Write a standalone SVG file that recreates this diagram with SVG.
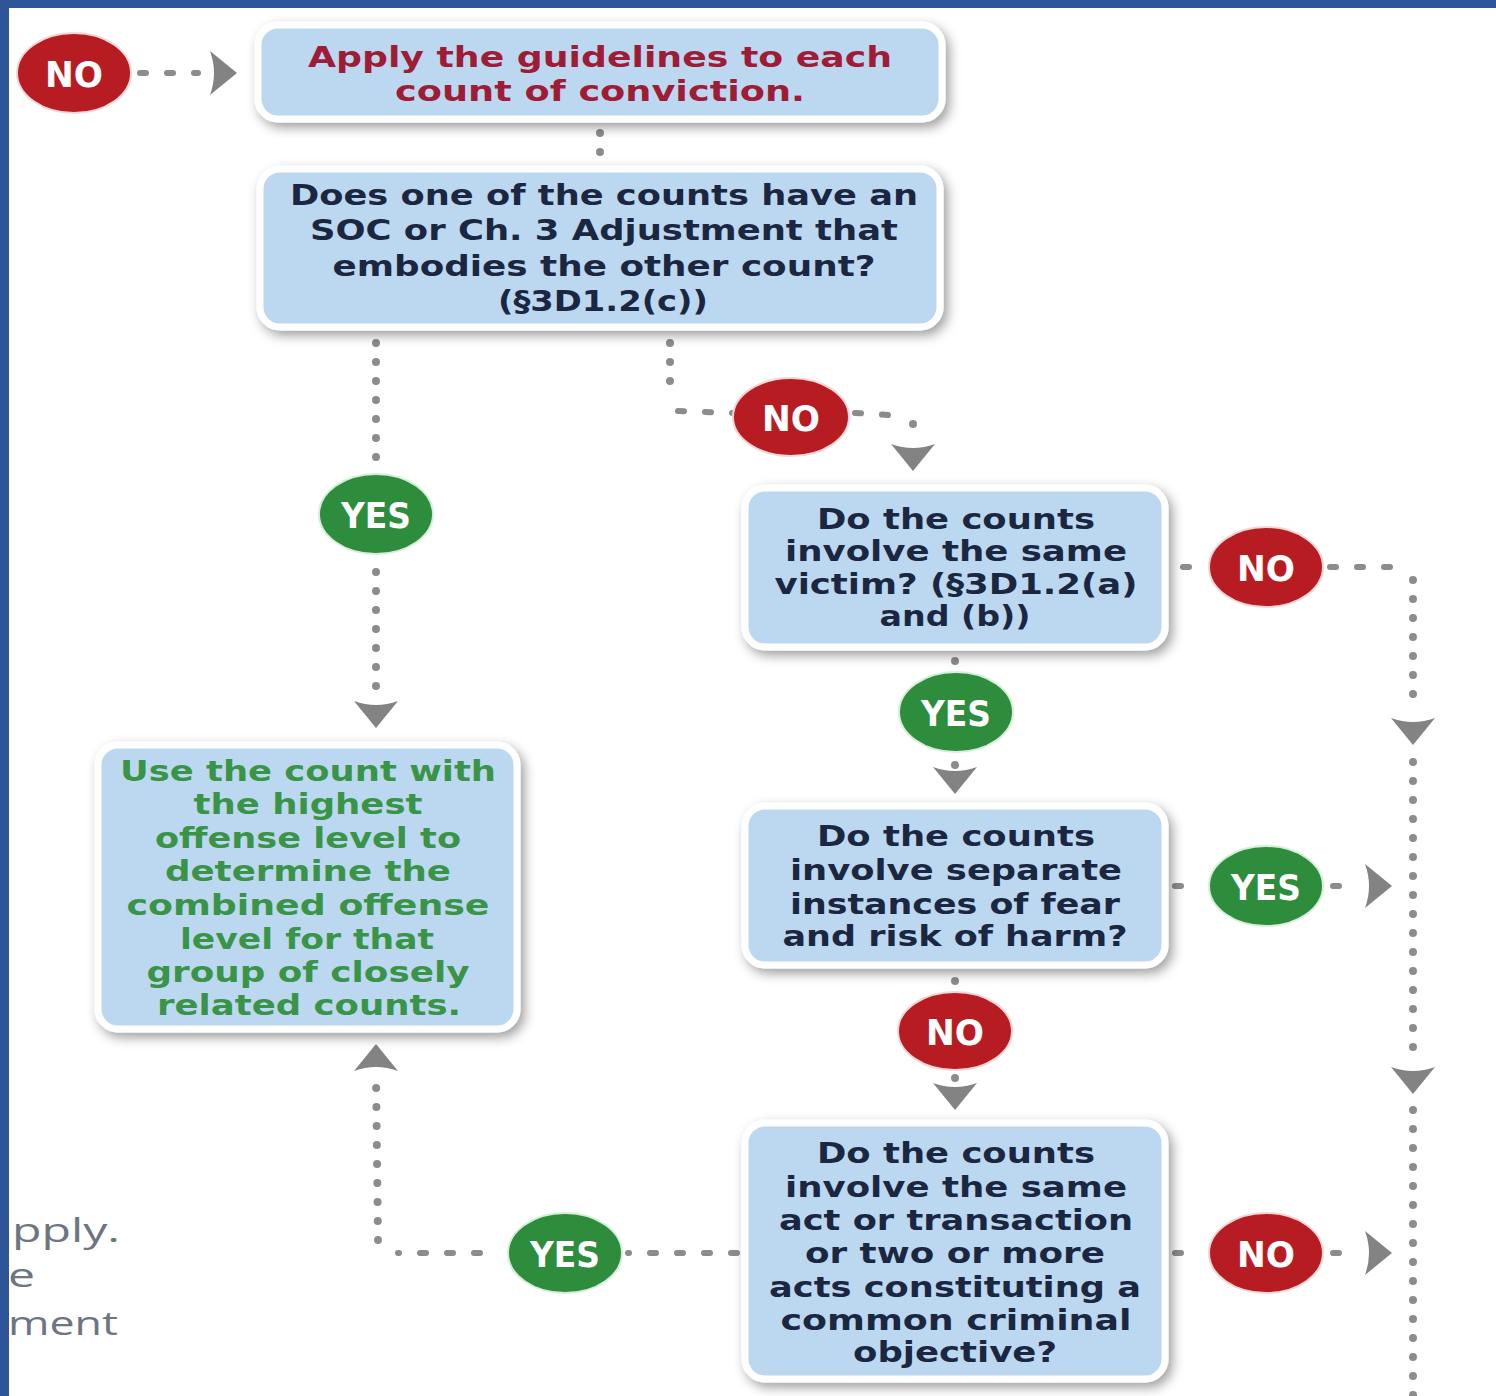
<svg xmlns="http://www.w3.org/2000/svg" xmlns:xlink="http://www.w3.org/1999/xlink" width="1496" height="1396" viewBox="0 0 1496 1396">
<style>
.box{fill:#bcd8f1;stroke:#ffffff;stroke-width:7;filter:url(#sh)}
.t{font-family:"DejaVu Sans","Liberation Sans",sans-serif;font-weight:bold;font-size:28px;text-anchor:middle}
.dark{fill:#1b2740}
.red{fill:#9e1c35}
.grn{fill:#3a9447}
.lab{font-family:"DejaVu Sans Condensed","DejaVu Sans",sans-serif;font-weight:bold;font-size:36px;fill:#ffffff;text-anchor:middle}
.no{fill:#b71c22;stroke:#f3d6d6;stroke-width:2}
.yes{fill:#2e8c3d;stroke:#d6eed9;stroke-width:2}
.dv{fill:none;stroke:#8c8c8c;stroke-width:8;stroke-linecap:round;stroke-dasharray:0 19}
.dh{fill:none;stroke:#8c8c8c;stroke-width:6;stroke-linecap:round;stroke-dasharray:6 21}
.arr{fill:#838383}
.side{font-family:"Open Sans","Liberation Sans",sans-serif;font-size:33px;fill:#6d7580}
</style>
<defs>
<filter id="sh" x="-10%" y="-15%" width="125%" height="135%">
<feDropShadow dx="4" dy="5" stdDeviation="6" flood-color="#000000" flood-opacity="0.38"/>
</filter>
<path id="ad" d="M0,0 L-22,-27 Q0,-19 22,-27 Z"/>
</defs>
<rect x="0" y="0" width="1496" height="1396" fill="#ffffff"/>

<g id="sidetext">
<text class="side" x="12" y="1242" textLength="108" lengthAdjust="spacingAndGlyphs">pply.</text>
<text class="side" x="8" y="1287" textLength="27" lengthAdjust="spacingAndGlyphs">e</text>
<text class="side" x="8" y="1335" textLength="110" lengthAdjust="spacingAndGlyphs">ment</text>
</g>

<g id="connectors">
<path class="dh" d="M0,73 L14,73"/>
<path class="dh" d="M140,73 L198,73"/>
<use href="#ad" class="arr" transform="translate(237,73) rotate(-90)"/>
<path class="dv" d="M600,133 L600,155"/>
<path class="dv" d="M376,343 L376,465"/>
<path class="dv" d="M376,572 L376,695"/>
<use href="#ad" class="arr" transform="translate(376,728)"/>
<path class="dv" d="M670,343 L670,400"/>
<path class="dh" d="M678,411 L733,413"/>
<path class="dh" d="M855,413 L905,416"/>
<path class="dv" d="M913,424 L913,440"/>
<use href="#ad" class="arr" transform="translate(913,471)"/>
<path class="dh" d="M1183,567 L1200,567"/>
<path class="dh" d="M1330,567 L1395,567"/>
<path class="dv" d="M1413,580 L1413,710"/>
<use href="#ad" class="arr" transform="translate(1413,745)"/>
<path class="dv" d="M1413,762 L1413,1060"/>
<use href="#ad" class="arr" transform="translate(1413,1094)"/>
<path class="dv" d="M1413,1110 L1413,1396"/>
<path class="dv" d="M955,661 L955,665"/>
<path class="dv" d="M955,765 L955,768"/>
<use href="#ad" class="arr" transform="translate(955,794)"/>
<path class="dh" d="M1175,886 L1200,886"/>
<path class="dh" d="M1333,886 L1345,886"/>
<use href="#ad" class="arr" transform="translate(1392,886) rotate(-90)"/>
<path class="dv" d="M955,981 L955,984"/>
<path class="dv" d="M955,1078 L955,1081"/>
<use href="#ad" class="arr" transform="translate(955,1110)"/>
<path class="dh" d="M1175,1253 L1200,1253"/>
<path class="dh" d="M1333,1253 L1345,1253"/>
<use href="#ad" class="arr" transform="translate(1392,1253) rotate(-90)"/>
<path class="dh" d="M737,1253 L628,1253"/>
<path class="dh" d="M480,1253 L398,1253"/>
<path class="dv" d="M378,1240 L376,1075"/>
<use href="#ad" class="arr" transform="translate(376,1044) rotate(180)"/>
</g>

<g id="n1">
<rect class="box" x="258" y="25" width="684" height="94" rx="20"/>
<text class="t red" x="600" y="67" textLength="584" lengthAdjust="spacingAndGlyphs">Apply the guidelines to each</text>
<text class="t red" x="600" y="101" textLength="410" lengthAdjust="spacingAndGlyphs">count of conviction.</text>
</g>

<g id="n2">
<rect class="box" x="260" y="169" width="680" height="158" rx="20"/>
<text class="t dark" x="604" y="205" textLength="628" lengthAdjust="spacingAndGlyphs">Does one of the counts have an</text>
<text class="t dark" x="604" y="240" textLength="588" lengthAdjust="spacingAndGlyphs">SOC or Ch. 3 Adjustment that</text>
<text class="t dark" x="604" y="276" textLength="543" lengthAdjust="spacingAndGlyphs">embodies the other count?</text>
<text class="t dark" x="603" y="311" textLength="210" lengthAdjust="spacingAndGlyphs">(§3D1.2(c))</text>
</g>

<g id="n3">
<rect class="box" x="98" y="745" width="419" height="284" rx="20"/>
<text class="t grn" x="308" y="781" textLength="376" lengthAdjust="spacingAndGlyphs">Use the count with</text>
<text class="t grn" x="308" y="814" textLength="229" lengthAdjust="spacingAndGlyphs">the highest</text>
<text class="t grn" x="308" y="848" textLength="306" lengthAdjust="spacingAndGlyphs">offense level to</text>
<text class="t grn" x="308" y="881" textLength="286" lengthAdjust="spacingAndGlyphs">determine the</text>
<text class="t grn" x="308" y="915" textLength="363" lengthAdjust="spacingAndGlyphs">combined offense</text>
<text class="t grn" x="307" y="949" textLength="254" lengthAdjust="spacingAndGlyphs">level for that</text>
<text class="t grn" x="308" y="982" textLength="323" lengthAdjust="spacingAndGlyphs">group of closely</text>
<text class="t grn" x="309" y="1015" textLength="304" lengthAdjust="spacingAndGlyphs">related counts.</text>
</g>

<g id="n4">
<rect class="box" x="745" y="488" width="420" height="159" rx="20"/>
<text class="t dark" x="956" y="529" textLength="278" lengthAdjust="spacingAndGlyphs">Do the counts</text>
<text class="t dark" x="956" y="561" textLength="342" lengthAdjust="spacingAndGlyphs">involve the same</text>
<text class="t dark" x="956" y="594" textLength="363" lengthAdjust="spacingAndGlyphs">victim?  (§3D1.2(a)</text>
<text class="t dark" x="955" y="626" textLength="151" lengthAdjust="spacingAndGlyphs">and (b))</text>
</g>

<g id="n5">
<rect class="box" x="745" y="806" width="420" height="159" rx="20"/>
<text class="t dark" x="956" y="846" textLength="278" lengthAdjust="spacingAndGlyphs">Do the counts</text>
<text class="t dark" x="956" y="880" textLength="332" lengthAdjust="spacingAndGlyphs">involve separate</text>
<text class="t dark" x="955" y="914" textLength="330" lengthAdjust="spacingAndGlyphs">instances of fear</text>
<text class="t dark" x="955" y="946" textLength="345" lengthAdjust="spacingAndGlyphs">and risk of harm?</text>
</g>

<g id="n6">
<rect class="box" x="745" y="1123" width="420" height="256" rx="20"/>
<text class="t dark" x="956" y="1163" textLength="278" lengthAdjust="spacingAndGlyphs">Do the counts</text>
<text class="t dark" x="956" y="1197" textLength="342" lengthAdjust="spacingAndGlyphs">involve the same</text>
<text class="t dark" x="956" y="1230" textLength="354" lengthAdjust="spacingAndGlyphs">act or transaction</text>
<text class="t dark" x="955" y="1263" textLength="300" lengthAdjust="spacingAndGlyphs">or two or more</text>
<text class="t dark" x="955" y="1297" textLength="372" lengthAdjust="spacingAndGlyphs">acts constituting a</text>
<text class="t dark" x="956" y="1330" textLength="351" lengthAdjust="spacingAndGlyphs">common criminal</text>
<text class="t dark" x="955" y="1362" textLength="204" lengthAdjust="spacingAndGlyphs">objective?</text>
</g>

<g id="l_no1"><ellipse class="no" cx="74" cy="73" rx="57" ry="40"/><text class="lab" x="74" y="87" textLength="58" lengthAdjust="spacingAndGlyphs">NO</text></g>
<g id="l_no2"><ellipse class="no" cx="791" cy="417" rx="58" ry="39"/><text class="lab" x="791" y="431" textLength="58" lengthAdjust="spacingAndGlyphs">NO</text></g>
<g id="l_yes1"><ellipse class="yes" cx="376" cy="514" rx="57" ry="40"/><text class="lab" x="376" y="528" textLength="70" lengthAdjust="spacingAndGlyphs">YES</text></g>
<g id="l_no3"><ellipse class="no" cx="1266" cy="567" rx="57" ry="40"/><text class="lab" x="1266" y="581" textLength="58" lengthAdjust="spacingAndGlyphs">NO</text></g>
<g id="l_yes2"><ellipse class="yes" cx="956" cy="712" rx="57" ry="40"/><text class="lab" x="956" y="726" textLength="70" lengthAdjust="spacingAndGlyphs">YES</text></g>
<g id="l_yes3"><ellipse class="yes" cx="1266" cy="886" rx="57" ry="40"/><text class="lab" x="1266" y="900" textLength="70" lengthAdjust="spacingAndGlyphs">YES</text></g>
<g id="l_no4"><ellipse class="no" cx="955" cy="1031" rx="57" ry="39"/><text class="lab" x="955" y="1045" textLength="58" lengthAdjust="spacingAndGlyphs">NO</text></g>
<g id="l_no5"><ellipse class="no" cx="1266" cy="1253" rx="57" ry="40"/><text class="lab" x="1266" y="1267" textLength="58" lengthAdjust="spacingAndGlyphs">NO</text></g>
<g id="l_yes4"><ellipse class="yes" cx="565" cy="1253" rx="57" ry="40"/><text class="lab" x="565" y="1267" textLength="70" lengthAdjust="spacingAndGlyphs">YES</text></g>

<g id="frame">
<rect x="0" y="0" width="1496" height="8" fill="#2d5597"/>
<rect x="0" y="0" width="9" height="1396" fill="#2d5597"/>
</g>
</svg>
